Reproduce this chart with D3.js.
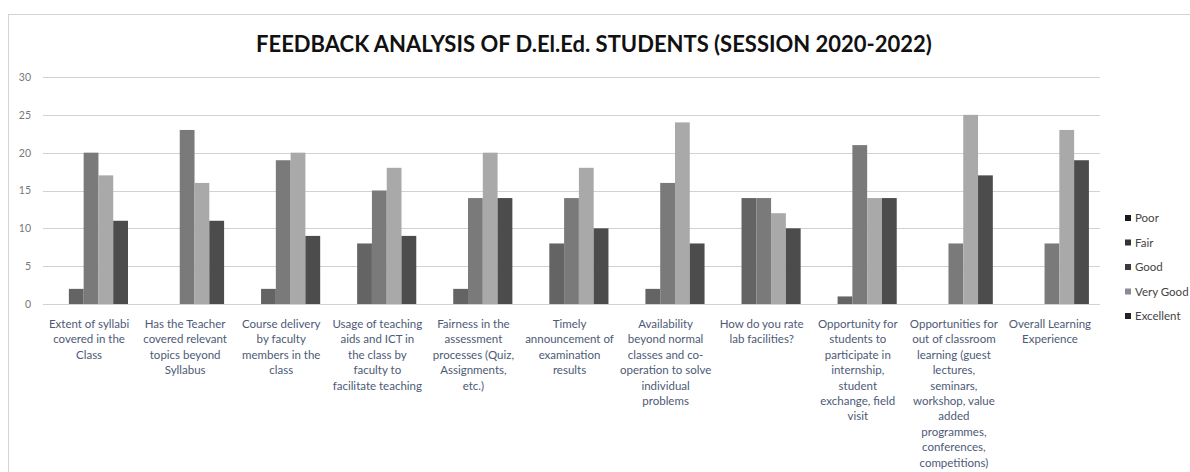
<!DOCTYPE html>
<html>
<head>
<meta charset="utf-8">
<script src="https://cdn.jsdelivr.net/npm/d3@7"></script>
<style>
  html, body { margin: 0; padding: 0; background: #fff; }
  svg { display: block; }
</style>
</head>
<body>
<svg id="chart" width="1190" height="472"></svg>
<script>
const title = "FEEDBACK ANALYSIS OF D.El.Ed. STUDENTS (SESSION 2020-2022)";
const categories = [
  "Extent of syllabi\ncovered in the\nClass",
  "Has the Teacher\ncovered relevant\ntopics beyond\nSyllabus",
  "Course delivery\nby faculty\nmembers in the\nclass",
  "Usage of teaching\naids and ICT in\nthe class by\nfaculty to\nfacilitate teaching",
  "Fairness in the\nassessment\nprocesses (Quiz,\nAssignments,\netc.)",
  "Timely\nannouncement of\nexamination\nresults",
  "Availability\nbeyond normal\nclasses and co-\noperation to solve\nindividual\nproblems",
  "How do you rate\nlab facilities?",
  "Opportunity for\nstudents to\nparticipate in\ninternship,\nstudent\nexchange, field\nvisit",
  "Opportunities for\nout of classroom\nlearning (guest\nlectures,\nseminars,\nworkshop, value\nadded\nprogrammes,\nconferences,\ncompetitions)",
  "Overall Learning\nExperience"
];
const seriesNames = ["Poor", "Fair", "Good", "Very Good", "Excellent"];
const poor      = [0, 0, 0, 0, 0, 0, 0, 0, 0, 0, 0];
const fair      = [2, 0, 2, 8, 2, 8, 2, 14, 1, 0, 0];
const good      = [20, 23, 19, 15, 14, 14, 16, 14, 21, 8, 8];
const veryGood  = [17, 16, 20, 18, 20, 18, 24, 12, 14, 25, 23];
const excellent = [11, 11, 9, 9, 14, 10, 8, 10, 14, 17, 19];
const yTicks = [0, 5, 10, 15, 20, 25, 30];

const seriesValues = [poor, fair, good, veryGood, excellent];
const colors = ["#2a2a2a", "#646464", "#7a7a7a", "#a9a9a9", "#4c4c4c"];
const legendColors = ["#1a1a1a", "#333333", "#3a3a3a", "#8a8a96", "#222222"];

const svg = d3.select("#chart");
const font = "Lato, 'Open Sans', sans-serif";

// frame
svg.append("rect").attr("x", 8.5).attr("y", 14.5).attr("width", 1200).attr("height", 480)
  .attr("fill", "none").attr("stroke", "#d4d4d4").attr("stroke-width", 1);

const plotLeft = 43, plotRight = 1100, plotTop = 77, plotBottom = 304;
const x0 = d3.scaleBand().domain(d3.range(categories.length)).range([plotLeft, plotRight]).paddingInner(0).paddingOuter(0);
const gapHalf = x0.bandwidth() * 0.75 / 6.5;
const x1 = d3.scaleBand().domain(d3.range(seriesNames.length))
  .range([gapHalf, x0.bandwidth() - gapHalf]).padding(0);
const y = d3.scaleLinear().domain([0, 30]).range([plotBottom, plotTop]);

// gridlines
svg.append("g").selectAll("line").data(yTicks).join("line")
  .attr("x1", plotLeft).attr("x2", plotRight)
  .attr("y1", d => Math.round(y(d)) + 0.5).attr("y2", d => Math.round(y(d)) + 0.5)
  .attr("stroke", "#d2d2d2").attr("stroke-width", 1);

// y axis labels
const yAxis = d3.axisLeft(y).tickValues(yTicks).tickSize(0).tickPadding(0);
const yg = svg.append("g").attr("transform", `translate(31,0)`).call(yAxis);
yg.select(".domain").remove();
yg.selectAll("text").attr("font-family", font).attr("font-size", 10.5).attr("fill", "#777");

// bars
const groups = svg.append("g").selectAll("g").data(categories).join("g")
  .attr("transform", (d, i) => `translate(${x0(i)},0)`);
groups.selectAll("rect").data((d, i) => seriesValues.map((s, k) => ({k, v: s[i]})))
  .join("rect")
  .attr("x", d => x1(d.k)).attr("width", x1.bandwidth())
  .attr("y", d => y(d.v)).attr("height", d => y(0) - y(d.v))
  .attr("fill", d => colors[d.k]);

// x labels
const lab = svg.append("g").selectAll("text").data(categories).join("text")
  .attr("font-family", font).attr("font-size", 11.5).attr("fill", "#4d5a76")
  .attr("text-anchor", "middle")
  .attr("transform", (d, i) => `translate(${x0(i) + x0.bandwidth() / 2 - 2},328)`);
lab.selectAll("tspan").data(d => d.split("\n")).join("tspan")
  .attr("x", 0).attr("dy", (d, i) => i === 0 ? 0 : 15.4).text(d => d);

// title
svg.append("text").attr("x", 594).attr("y", 52).attr("text-anchor", "middle")
  .attr("font-family", font).attr("font-weight", "bold").attr("font-size", 22)
  .attr("fill", "#111").text(title);

// legend
const lg = svg.append("g").selectAll("g").data(seriesNames).join("g")
  .attr("transform", (d, i) => `translate(1125,${218 + i * 24.5})`);
lg.append("rect").attr("x", 0).attr("y", -3).attr("width", 6).attr("height", 6)
  .attr("fill", (d, i) => legendColors[i]);
lg.append("text").attr("x", 10).attr("y", 4).attr("font-family", font).attr("font-size", 11.5)
  .attr("fill", "#444").text(d => d);
</script>
</body>
</html>
